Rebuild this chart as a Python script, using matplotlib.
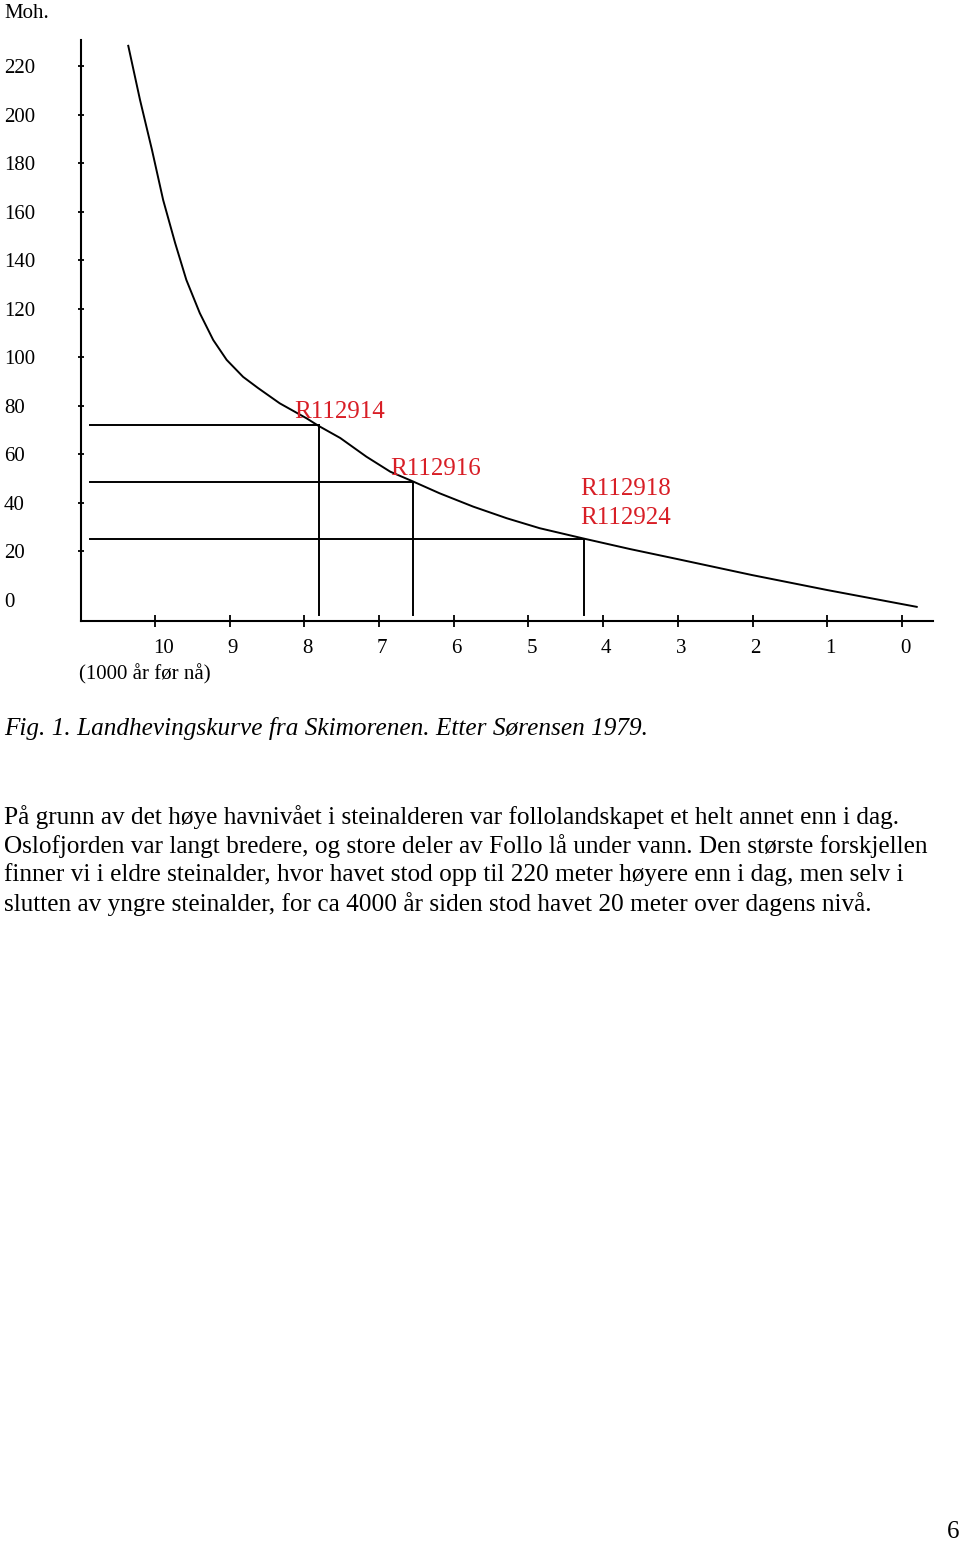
import matplotlib
matplotlib.use("Agg")
import matplotlib.pyplot as plt
import matplotlib.transforms as mtransforms

plt.rcParams['font.family'] = ['Liberation Serif', 'DejaVu Serif']

# curve: (1000 år før nå, moh.)
curve_years = [10.36, 10.20, 10.04, 9.89, 9.73, 9.58, 9.40, 9.22, 9.04, 8.82, 8.62,
               8.33, 7.97, 7.81, 7.52, 7.17, 6.85, 6.54, 6.19, 5.74, 5.29, 4.85,
               4.27, 3.64, 3.01, 2.01, 1.00, -0.21]
curve_height = [228.9, 206.2, 185.6, 164.9, 147.2, 132.0, 118.3, 107.2, 99.0, 92.0, 87.4,
                81.1, 74.9, 71.8, 66.8, 59.1, 52.9, 48.8, 44.0, 38.5, 33.7, 29.6,
                25.4, 21.0, 16.9, 10.3, 4.1, -2.9]

# sample dates marked on the curve
sample_years = [7.81, 6.54, 4.26]
sample_height = [72.2, 48.7, 25.2]
sample_labels = ["R112914", "R112916", "R112918\nR112924"]

x_ticks = [10, 9, 8, 7, 6, 5, 4, 3, 2, 1, 0]
y_ticks = [20, 40, 60, 80, 100, 120, 140, 160, 180, 200, 220]
y_labels = [0, 20, 40, 60, 80, 100, 120, 140, 160, 180, 200, 220]

caption = "Fig. 1. Landhevingskurve fra Skimorenen. Etter Sørensen 1979."
body = [
    "På grunn av det høye havnivået i steinalderen var follolandskapet et helt annet enn i dag.",
    "Oslofjorden var langt bredere, og store deler av Follo lå under vann. Den største forskjellen",
    "finner vi i eldre steinalder, hvor havet stod opp til 220 meter høyere enn i dag, men selv i",
    "slutten av yngre steinalder, for ca 4000 år siden stod havet 20 meter over dagens nivå.",
]

W, H = 960, 1543
fig = plt.figure(figsize=(W / 100, H / 100), dpi=100)

def fy(py):
    return 1 - py / H

ax = fig.add_axes([81 / W, fy(621), (933 - 81) / W, (621 - 40) / H])
ax.set_xlim(10.99, -0.415)
ax.set_ylim(-8.66, 230.9)
for s in ["top", "right"]:
    ax.spines[s].set_visible(False)
for s in ["left", "bottom"]:
    ax.spines[s].set_linewidth(1.5)

ax.set_xticks(x_ticks)
ax.set_yticks(y_ticks)
ax.set_xticklabels([])
ax.set_yticklabels([])
ax.tick_params(axis="x", direction="inout", length=9, width=1.3)
ax.tick_params(axis="y", direction="inout", length=4, width=1.3)

ax.plot(curve_years, curve_height, color="black", lw=1.4,
        solid_joinstyle="round", solid_capstyle="butt")

red = "#d81e26"
for yr, h in zip(sample_years, sample_height):
    ax.plot([10.87, yr], [h, h], color="black", lw=1.4)
    ax.plot([yr, yr], [h, -6.2], color="black", lw=1.4)

ax.text(8.13, 73, sample_labels[0], color=red, fontsize=18, ha="left", va="bottom")
ax.text(6.85, 49.5, sample_labels[1], color=red, fontsize=18, ha="left", va="bottom")
ax.text(4.31, 29.3, sample_labels[2], color=red, fontsize=18, ha="left", va="bottom",
        linespacing=1.4)

# tick labels
tx = mtransforms.blended_transform_factory(ax.transData, fig.transFigure)
for v in x_ticks:
    ax.text(v + 0.03, fy(649), str(v), transform=tx, fontsize=15, ha="left", va="center")
ty = mtransforms.blended_transform_factory(fig.transFigure, ax.transData)
for v in y_labels:
    ax.text(4 / W, v - 0.85, str(v), transform=ty, fontsize=15, ha="left", va="center")

fig.text(4 / W, fy(14), "Moh.", fontsize=15, ha="left", va="center")
fig.text(79 / W, fy(674), "(1000 år før nå)", fontsize=15, ha="left", va="center")

fig.text(4 / W, fy(729), caption, fontsize=18.2, style="italic", ha="left", va="center")
for i, line in enumerate(body):
    fig.text(4 / W, fy(817 + 29 * i), line, fontsize=18.2, ha="left", va="center")

fig.text(953 / W, fy(1532), "6", fontsize=18, ha="center", va="center")

fig.savefig("out.png", dpi=100)
